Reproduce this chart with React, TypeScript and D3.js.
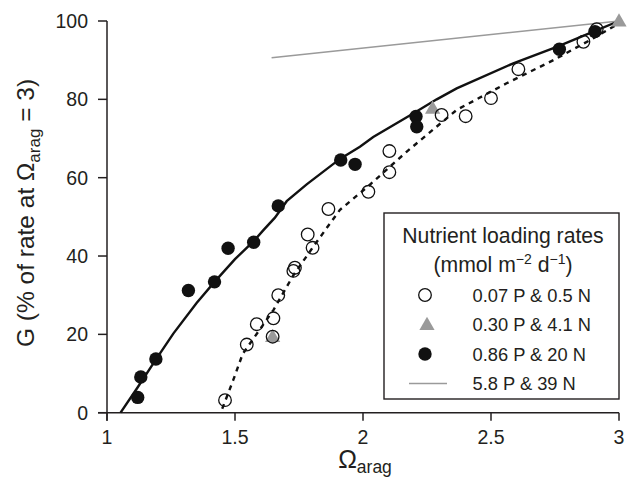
import React from "react";
import * as d3 from "d3";

// Data
const openPts: [number, number][] = [
  [1.461, 3.2], [1.546, 17.4], [1.585, 22.6], [1.65, 24.1], [1.647, 19.4],
  [1.669, 30.0], [1.728, 36.2], [1.734, 37.0], [1.784, 45.5], [1.803, 42.1],
  [1.865, 52.0], [2.021, 56.4], [2.103, 61.4], [2.103, 66.8], [2.307, 76.0],
  [2.401, 75.7], [2.5, 80.3], [2.607, 87.7], [2.861, 94.7], [2.913, 97.9],
];
const triPts: [number, number][] = [
  [1.647, 19.4], [2.272, 77.7], [3.0, 100],
];
const filledPts: [number, number][] = [
  [1.12, 3.9], [1.132, 9.1], [1.191, 13.7], [1.318, 31.2], [1.42, 33.4],
  [1.473, 42.0], [1.573, 43.5], [1.669, 52.8], [1.913, 64.5], [1.969, 63.4],
  [2.207, 75.6], [2.21, 73.0], [2.767, 92.8], [2.906, 97.3],
];
const solidFit: [number, number][] = [
  [1.053, 0], [1.12, 6.5], [1.19, 13.5], [1.259, 20.2], [1.35, 28], [1.42, 33.4],
  [1.5, 39.2], [1.573, 43.8], [1.611, 46.6], [1.656, 49.8], [1.702, 54.0],
  [1.78, 58.3], [1.91, 64.8], [1.988, 67.9], [2.04, 70.4], [2.196, 76.4],
  [2.288, 80], [2.366, 82.8], [2.587, 89.2], [2.757, 93.4], [2.9, 97.3], [3.0, 100],
];
const dashedFit: [number, number][] = [
  [1.45, 1], [1.493, 8.3], [1.53, 15], [1.65, 26.2], [1.728, 35.1], [1.806, 42.4],
  [1.871, 48.3], [1.91, 51.8], [2.02, 57.8], [2.17, 66.6], [2.366, 77.3],
  [2.561, 84.1], [2.744, 90], [2.9, 95.6], [3.0, 99.4],
];
const grayLine: [number, number][] = [[1.643, 90.6], [3.0, 100]];
const xTicks = [1, 1.5, 2, 2.5, 3];
const yTicks = [0, 20, 40, 60, 80, 100];
const legendLabels = ["0.07 P & 0.5 N", "0.30 P & 4.1 N", "0.86 P & 20 N", "5.8 P & 39 N"];

const FONT = "'Liberation Sans', Arial, Helvetica, sans-serif";
const INK = "#231f20";

export default function App() {
  const W = 633, H = 479;
  const x = d3.scaleLinear().domain([1, 3]).range([107, 619]);
  const y = d3.scaleLinear().domain([0, 100]).range([412.7, 21]);
  const line = d3.line<[number, number]>().x(d => x(d[0])).y(d => y(d[1])).curve(d3.curveLinear);
  const tri = d3.symbol().type(d3.symbolTriangle).size(100)();
  const lx = 384, ly = 213, lw = 235, lh = 186;
  const entryY = [295, 324.5, 354, 383.5];
  const symX = 425, txtX = 472.5;

  return (
    <svg width={W} height={H} style={{ position: "absolute", left: 0, top: 0, background: "#fff" }} fontFamily={FONT}>
      <rect width={W} height={H} fill="#fff" />
      {/* axes */}
      <line x1={x(1)} x2={x(1)} y1={y(100)} y2={y(0) + 8} stroke={INK} strokeWidth={1.5} />
      <line x1={x(1) - 9} x2={x(3)} y1={y(0)} y2={y(0)} stroke={INK} strokeWidth={1.5} />
      {yTicks.map(t => (
        <g key={"y" + t}>
          <line x1={x(1) - 9} x2={x(1)} y1={y(t)} y2={y(t)} stroke={INK} strokeWidth={1.5} />
          <text x={88} y={y(t)} dy="0.36em" textAnchor="end" fontSize={19.5} fill={INK}>{t}</text>
        </g>
      ))}
      {xTicks.map(t => (
        <g key={"x" + t}>
          <line x1={x(t)} x2={x(t)} y1={y(0)} y2={y(0) + 8} stroke={INK} strokeWidth={1.5} />
          <text x={x(t)} y={443.5} textAnchor="middle" fontSize={19.5} fill={INK}>{t}</text>
        </g>
      ))}
      {/* axis titles */}
      <text transform="translate(34,213) rotate(-90)" textAnchor="middle" fontSize={24.5} fill={INK}>
        G (% of rate at Ω<tspan fontSize={17} dy={6}>arag</tspan><tspan dy={-6}> = 3)</tspan>
      </text>
      <text x={365} y={468} textAnchor="middle" fontSize={25} fill={INK}>
        Ω<tspan fontSize={17.5} dy={4.5}>arag</tspan>
      </text>
      {/* fitted lines */}
      <path d={line(grayLine) || ""} fill="none" stroke="#9a9a9a" strokeWidth={1.6} />
      <path d={line(dashedFit) || ""} fill="none" stroke="#111" strokeWidth={2.4} strokeDasharray="5,5" />
      <path d={line(solidFit) || ""} fill="none" stroke="#111" strokeWidth={2.4} />
      {/* points */}
      {triPts.map((p, i) => (
        <path key={"t" + i} d={tri || ""} transform={`translate(${x(p[0])},${y(p[1]) + 1})`} fill="#9a9a9a" />
      ))}
      {openPts.map((p, i) => (
        <circle key={"o" + i} cx={x(p[0])} cy={y(p[1])} r={6.3} fill="none" stroke="#111" strokeWidth={1.3} />
      ))}
      {filledPts.map((p, i) => (
        <circle key={"f" + i} cx={x(p[0])} cy={y(p[1])} r={6.7} fill="#111" />
      ))}
      {/* legend */}
      <rect x={lx} y={ly} width={lw} height={lh} fill="#fff" stroke={INK} strokeWidth={1.4} />
      <text x={503} y={243} textAnchor="middle" fontSize={21.2} fill={INK}>Nutrient loading rates</text>
      <text x={503} y={272} textAnchor="middle" fontSize={21.2} fill={INK}>
        (mmol m<tspan fontSize={14} dy={-8}>−2</tspan><tspan dy={8}> d</tspan><tspan fontSize={14} dy={-8}>−1</tspan><tspan dy={8}>)</tspan>
      </text>
      <circle cx={symX} cy={entryY[0]} r={6.3} fill="#fff" stroke="#111" strokeWidth={1.3} />
      <path d={tri || ""} transform={`translate(${symX + 2},${entryY[1] + 1})`} fill="#9a9a9a" />
      <circle cx={symX} cy={entryY[2]} r={6.7} fill="#111" />
      <line x1={409} x2={447} y1={entryY[3]} y2={entryY[3]} stroke="#9a9a9a" strokeWidth={1.6} />
      {legendLabels.map((l, i) => (
        <text key={l} x={txtX} y={entryY[i]} dy="0.36em" fontSize={18.3} fill={INK}>{l}</text>
      ))}
    </svg>
  );
}
